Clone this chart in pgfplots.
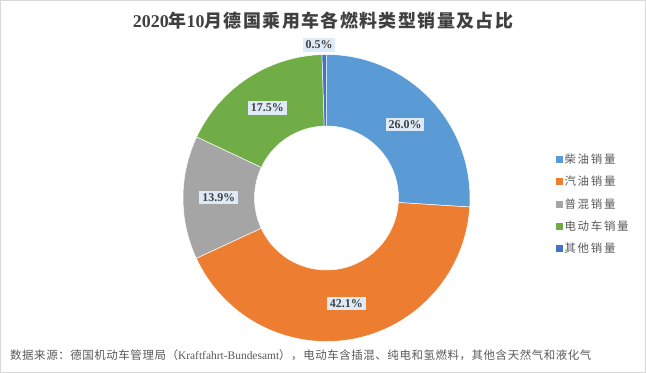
\documentclass[border=0pt]{standalone}
\usepackage{pgfplots}
\pgfplotsset{compat=1.18}
\usepackage{pgfplotstable}
\usepackage{fontspec}
\setmainfont{Liberation Serif}
\newfontfamily\cjk{Noto Sans CJK SC}
\newfontfamily\cjkfoot[LetterSpace=5]{Noto Sans CJK SC}
\newfontfamily\cjkleg[LetterSpace=15]{Noto Sans CJK SC}
\newfontfamily\cjktitle[LetterSpace=8]{Noto Sans CJK SC}
\definecolor{cDiesel}{HTML}{5B9BD5}
\definecolor{cPetrol}{HTML}{ED7D31}
\definecolor{cHybrid}{HTML}{A5A5A5}
\definecolor{cEV}{HTML}{70AD47}
\definecolor{cOther}{HTML}{4472C4}
\definecolor{lblfill}{HTML}{DEEBF7}
\definecolor{lbltext}{HTML}{404040}
\definecolor{titletext}{HTML}{404040}
\definecolor{legtext}{HTML}{595959}
\definecolor{framecol}{HTML}{D9D9D9}
\tikzset{lbl/.style={fill=lblfill, inner xsep=3bp, inner ysep=2.5bp, text=lbltext,
    font=\fontsize{12}{14}\selectfont\bfseries}}
\begin{document}
\begin{tikzpicture}
\pgfplotstableread{
share
26.0
42.1
13.9
17.5
0.5
}\shares
\pgfplotstablegetelem{0}{share}\of\shares \let\vA\pgfplotsretval
\pgfplotstablegetelem{1}{share}\of\shares \let\vB\pgfplotsretval
\pgfplotstablegetelem{2}{share}\of\shares \let\vC\pgfplotsretval
\pgfplotstablegetelem{3}{share}\of\shares \let\vD\pgfplotsretval
\pgfplotstablegetelem{4}{share}\of\shares \let\vE\pgfplotsretval
\pgfmathsetmacro\aA{90}
\pgfmathsetmacro\aB{\aA-3.6*\vA}
\pgfmathsetmacro\aC{\aB-3.6*\vB}
\pgfmathsetmacro\aD{\aC-3.6*\vC}
\pgfmathsetmacro\aE{\aD-3.6*\vD}
\pgfmathsetmacro\aF{\aE-3.6*\vE}
\pgfmathsetmacro\mA{(\aA+\aB)/2}
\pgfmathsetmacro\mB{(\aB+\aC)/2}
\pgfmathsetmacro\mC{(\aC+\aD)/2}
\pgfmathsetmacro\mD{(\aD+\aE)/2}
\newcommand\donutsector[3]{%
  \filldraw[fill=#3,draw=white,line width=0.5bp,shift={(axis cs:326.5,175)}]
    (#1:143.5bp) arc[start angle=#1,end angle=#2,radius=143.5bp]
    -- (#2:72bp) arc[start angle=#2,end angle=#1,radius=72bp] -- cycle;}
\begin{axis}[
  scale only axis, width=646bp, height=373bp,
  xmin=0, xmax=646, ymin=0, ymax=373,
  hide axis, clip=false,
  legend style={at={(0.855,0.453)}, anchor=west, draw=none, fill=none,
    font=\cjkleg\fontsize{11.5}{13}\selectfont, text=legtext,
    row sep=7bp, cells={anchor=west}},
  legend image code/.code={\fill[#1, draw=none] (0bp,-3.5bp) rectangle (7bp,3.5bp);},
]
\addlegendimage{fill=cDiesel, draw=none}\addlegendentry{柴油销量}
\addlegendimage{fill=cPetrol, draw=none}\addlegendentry{汽油销量}
\addlegendimage{fill=cHybrid, draw=none}\addlegendentry{普混销量}
\addlegendimage{fill=cEV, draw=none}\addlegendentry{电动车销量}
\addlegendimage{fill=cOther, draw=none}\addlegendentry{其他销量}

\donutsector{\aA}{\aB}{cDiesel}
\donutsector{\aB}{\aC}{cPetrol}
\donutsector{\aC}{\aD}{cHybrid}
\donutsector{\aD}{\aE}{cEV}
\donutsector{\aE}{\aF}{cOther}

\node[lbl] at (axis cs:{326.5+107.75*cos(\mA)},{175+107.75*sin(\mA)}) {26.0\%};
\node[lbl] at (axis cs:{326.5+107.75*cos(\mB)},{175+107.75*sin(\mB)}) {42.1\%};
\node[lbl] at (axis cs:{326.5+107.75*cos(\mC)},{175+107.75*sin(\mC)}) {13.9\%};
\node[lbl] at (axis cs:{326.5+107.75*cos(\mD)},{175+107.75*sin(\mD)}) {17.5\%};
\node[lbl] at (axis cs:319,328) {0.5\%};

\node[text=titletext, font=\fontsize{18}{20}\selectfont\bfseries] at (axis cs:323,352)
  {2020{\cjktitle 年}10{\cjktitle 月德国乘用车各燃料类型销量及占比}};
\node[anchor=west, text=legtext, font=\fontsize{11.5}{13}\selectfont, inner sep=0pt] at (axis cs:10,18)
  {{\cjkfoot 数据来源：德国机动车管理局（}Kraftfahrt-Bundesamt{\cjkfoot ），电动车含插混、纯电和氢燃料，其他含天然气和液化气}};
\draw[framecol, line width=1bp] (axis cs:0.5,0.5) rectangle (axis cs:645.5,372.5);
\end{axis}
\end{tikzpicture}
\end{document}
